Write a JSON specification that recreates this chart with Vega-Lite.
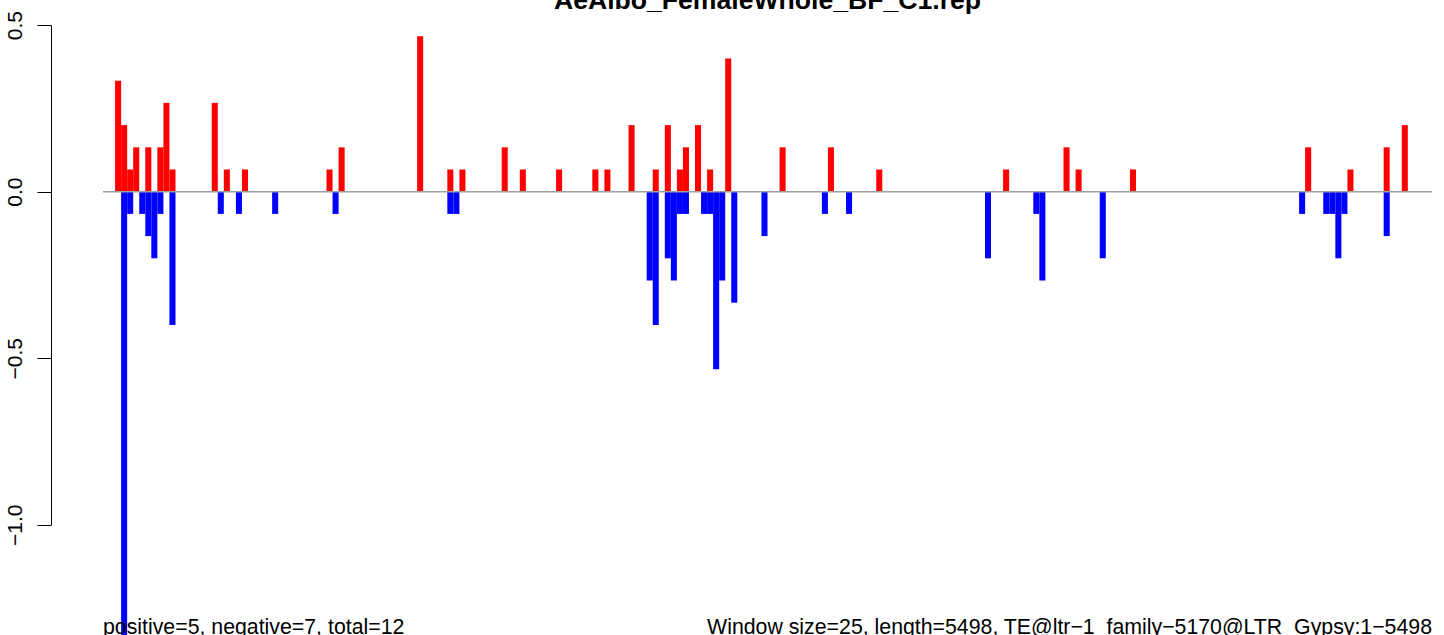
{
  "$schema": "https://vega.github.io/schema/vega-lite/v6.json",
  "width": 1329,
  "height": 622,
  "autosize": {"type": "none"},
  "padding": {"left": 103, "top": 13, "right": 12, "bottom": 0},
  "background": "white",
  "config": {"view": {"stroke": null}, "font": "Liberation Sans"},
  "title": {"text": "AeAlbo_FemaleWhole_BF_C1.rep", "font": "Liberation Sans", "fontSize": 26.6, "fontWeight": "bold", "color": "black", "anchor": "middle", "baseline": "alphabetic", "offset": -25},
  "datasets": {
    "windows": [
      {"start": 0, "end": 25, "strand": "positive", "value": 0.3333},
      {"start": 25, "end": 50, "strand": "positive", "value": 0.2},
      {"start": 50, "end": 75, "strand": "positive", "value": 0.0667},
      {"start": 75, "end": 100, "strand": "positive", "value": 0.1333},
      {"start": 125, "end": 150, "strand": "positive", "value": 0.1333},
      {"start": 175, "end": 200, "strand": "positive", "value": 0.1333},
      {"start": 200, "end": 225, "strand": "positive", "value": 0.2667},
      {"start": 225, "end": 250, "strand": "positive", "value": 0.0667},
      {"start": 400, "end": 425, "strand": "positive", "value": 0.2667},
      {"start": 450, "end": 475, "strand": "positive", "value": 0.0667},
      {"start": 525, "end": 550, "strand": "positive", "value": 0.0667},
      {"start": 875, "end": 900, "strand": "positive", "value": 0.0667},
      {"start": 925, "end": 950, "strand": "positive", "value": 0.1333},
      {"start": 1250, "end": 1275, "strand": "positive", "value": 0.4667},
      {"start": 1375, "end": 1400, "strand": "positive", "value": 0.0667},
      {"start": 1425, "end": 1450, "strand": "positive", "value": 0.0667},
      {"start": 1600, "end": 1625, "strand": "positive", "value": 0.1333},
      {"start": 1675, "end": 1700, "strand": "positive", "value": 0.0667},
      {"start": 1825, "end": 1850, "strand": "positive", "value": 0.0667},
      {"start": 1975, "end": 2000, "strand": "positive", "value": 0.0667},
      {"start": 2025, "end": 2050, "strand": "positive", "value": 0.0667},
      {"start": 2125, "end": 2150, "strand": "positive", "value": 0.2},
      {"start": 2225, "end": 2250, "strand": "positive", "value": 0.0667},
      {"start": 2275, "end": 2300, "strand": "positive", "value": 0.2},
      {"start": 2325, "end": 2350, "strand": "positive", "value": 0.0667},
      {"start": 2350, "end": 2375, "strand": "positive", "value": 0.1333},
      {"start": 2400, "end": 2425, "strand": "positive", "value": 0.2},
      {"start": 2450, "end": 2475, "strand": "positive", "value": 0.0667},
      {"start": 2525, "end": 2550, "strand": "positive", "value": 0.4},
      {"start": 2750, "end": 2775, "strand": "positive", "value": 0.1333},
      {"start": 2950, "end": 2975, "strand": "positive", "value": 0.1333},
      {"start": 3150, "end": 3175, "strand": "positive", "value": 0.0667},
      {"start": 3675, "end": 3700, "strand": "positive", "value": 0.0667},
      {"start": 3925, "end": 3950, "strand": "positive", "value": 0.1333},
      {"start": 3975, "end": 4000, "strand": "positive", "value": 0.0667},
      {"start": 4200, "end": 4225, "strand": "positive", "value": 0.0667},
      {"start": 4925, "end": 4950, "strand": "positive", "value": 0.1333},
      {"start": 5100, "end": 5125, "strand": "positive", "value": 0.0667},
      {"start": 5250, "end": 5275, "strand": "positive", "value": 0.1333},
      {"start": 5325, "end": 5350, "strand": "positive", "value": 0.2},
      {"start": 25, "end": 50, "strand": "negative", "value": -1.3333},
      {"start": 50, "end": 75, "strand": "negative", "value": -0.0667},
      {"start": 100, "end": 125, "strand": "negative", "value": -0.0667},
      {"start": 125, "end": 150, "strand": "negative", "value": -0.1333},
      {"start": 150, "end": 175, "strand": "negative", "value": -0.2},
      {"start": 175, "end": 200, "strand": "negative", "value": -0.0667},
      {"start": 225, "end": 250, "strand": "negative", "value": -0.4},
      {"start": 425, "end": 450, "strand": "negative", "value": -0.0667},
      {"start": 500, "end": 525, "strand": "negative", "value": -0.0667},
      {"start": 650, "end": 675, "strand": "negative", "value": -0.0667},
      {"start": 900, "end": 925, "strand": "negative", "value": -0.0667},
      {"start": 1375, "end": 1400, "strand": "negative", "value": -0.0667},
      {"start": 1400, "end": 1425, "strand": "negative", "value": -0.0667},
      {"start": 2200, "end": 2225, "strand": "negative", "value": -0.2667},
      {"start": 2225, "end": 2250, "strand": "negative", "value": -0.4},
      {"start": 2275, "end": 2300, "strand": "negative", "value": -0.2},
      {"start": 2300, "end": 2325, "strand": "negative", "value": -0.2667},
      {"start": 2325, "end": 2350, "strand": "negative", "value": -0.0667},
      {"start": 2350, "end": 2375, "strand": "negative", "value": -0.0667},
      {"start": 2425, "end": 2450, "strand": "negative", "value": -0.0667},
      {"start": 2450, "end": 2475, "strand": "negative", "value": -0.0667},
      {"start": 2475, "end": 2500, "strand": "negative", "value": -0.5333},
      {"start": 2500, "end": 2525, "strand": "negative", "value": -0.2667},
      {"start": 2550, "end": 2575, "strand": "negative", "value": -0.3333},
      {"start": 2675, "end": 2700, "strand": "negative", "value": -0.1333},
      {"start": 2925, "end": 2950, "strand": "negative", "value": -0.0667},
      {"start": 3025, "end": 3050, "strand": "negative", "value": -0.0667},
      {"start": 3600, "end": 3625, "strand": "negative", "value": -0.2},
      {"start": 3800, "end": 3825, "strand": "negative", "value": -0.0667},
      {"start": 3825, "end": 3850, "strand": "negative", "value": -0.2667},
      {"start": 4075, "end": 4100, "strand": "negative", "value": -0.2},
      {"start": 4900, "end": 4925, "strand": "negative", "value": -0.0667},
      {"start": 5000, "end": 5025, "strand": "negative", "value": -0.0667},
      {"start": 5025, "end": 5050, "strand": "negative", "value": -0.0667},
      {"start": 5050, "end": 5075, "strand": "negative", "value": -0.2},
      {"start": 5075, "end": 5100, "strand": "negative", "value": -0.0667},
      {"start": 5250, "end": 5275, "strand": "negative", "value": -0.1333}
    ]
  },
  "layer": [
    {
      "data": {"name": "windows"},
      "mark": {"type": "bar", "strokeWidth": 0},
      "encoding": {
        "x": {"field": "start", "type": "quantitative", "scale": {"domain": [-50, 5450], "nice": false, "zero": false}, "axis": null},
        "x2": {"field": "end"},
        "y": {"field": "value", "type": "quantitative", "scale": {"domain": [-1.3312, 0.5366], "nice": false, "zero": false},
          "axis": {"values": [-1, -0.5, 0, 0.5], "format": ".1f", "title": null, "offset": 52, "grid": false,
            "domain": true, "domainColor": "black", "domainWidth": 1, "domainDash": [0, 110.3, 499.5, 200],
            "ticks": true, "tickColor": "black", "tickSize": 14, "tickWidth": 1,
            "labelAngle": -90, "labelAlign": "center", "labelBaseline": "alphabetic", "labelPadding": 16,
            "labelFontSize": 21, "labelColor": "black", "labelFont": "Liberation Sans", "labelFlush": false, "labelOverlap": false}},
        "y2": {"datum": 0},
        "color": {"field": "strand", "type": "nominal", "scale": {"domain": ["positive", "negative"], "range": ["#FF0000", "#0000FF"]}, "legend": null}
      }
    },
    {
      "data": {"values": [{}]},
      "mark": {"type": "rule", "color": "#A0A0A0", "strokeWidth": 1.5},
      "encoding": {"y": {"datum": 0}}
    },
    {
      "data": {"values": [{}]},
      "mark": {"type": "text", "align": "left", "baseline": "alphabetic", "fontSize": 21.3, "font": "Liberation Sans", "color": "black"},
      "encoding": {"x": {"datum": -50}, "y": {"datum": -1.328}, "text": {"value": "positive=5, negative=7, total=12"}}
    },
    {
      "data": {"values": [{}]},
      "mark": {"type": "text", "align": "right", "baseline": "alphabetic", "fontSize": 21.3, "font": "Liberation Sans", "color": "black"},
      "encoding": {"x": {"datum": 5450}, "y": {"datum": -1.328}, "text": {"value": "Window size=25, length=5498, TE@ltr−1\u00a0\u00a0family−5170@LTR\u00a0\u00a0Gypsy:1−5498"}}
    }
  ]
}
